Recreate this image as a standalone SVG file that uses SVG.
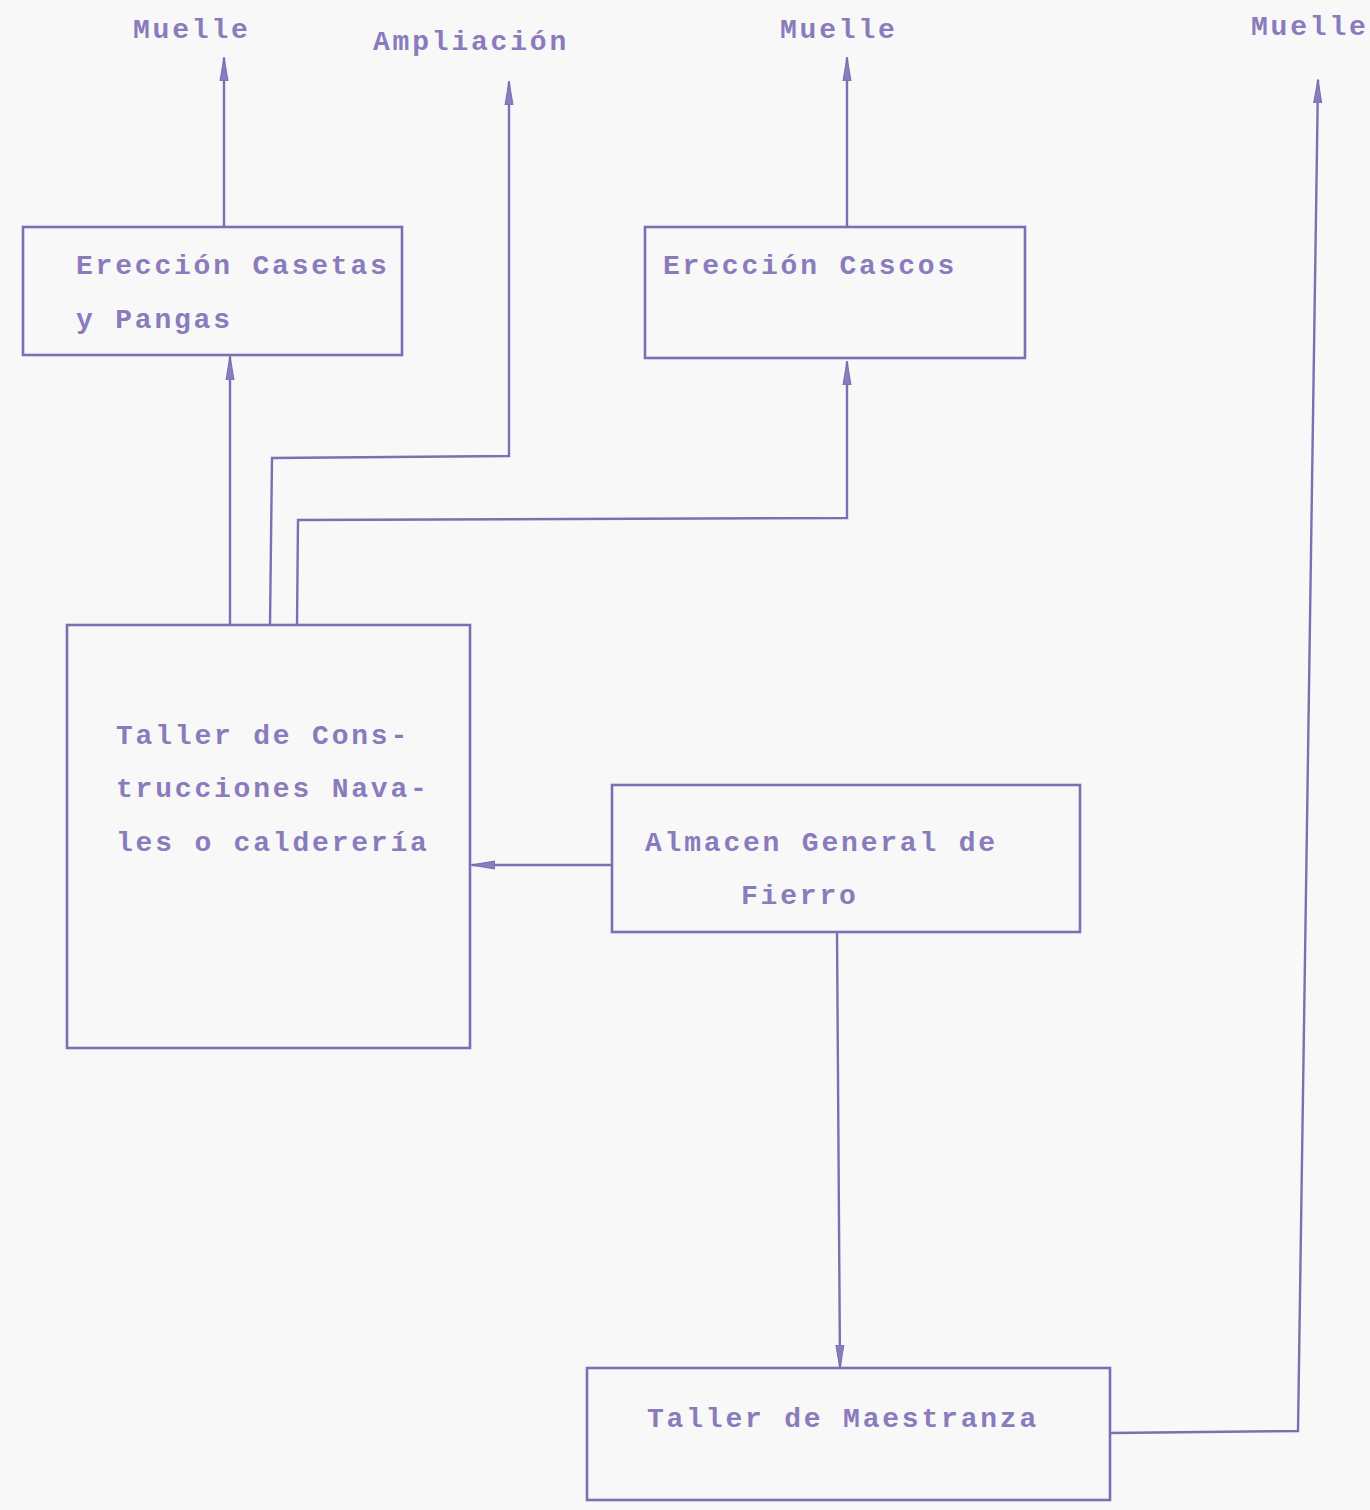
<svg xmlns="http://www.w3.org/2000/svg" width="1370" height="1510" viewBox="0 0 1370 1510">
<defs>
<marker id="ah" viewBox="0 0 24 10" refX="23" refY="5" markerWidth="24" markerHeight="10" markerUnits="userSpaceOnUse" orient="auto">
<path d="M0,1 L24,5 L0,9 Z" fill="#8a7cbd" stroke="#7a6aae" stroke-width="1"/>
</marker>
</defs>
<style>
.box{fill:none;stroke:#7e6eb2;stroke-width:2.6}
.ln{fill:none;stroke:#7e6eb2;stroke-width:2.4;marker-end:url(#ah)}
.t{font-family:"Liberation Mono",monospace;font-weight:bold;font-size:28px;letter-spacing:2.8px;fill:#8a7bbd}
</style>
<rect width="1370" height="1510" fill="#f8f8f9"/>
<g id="labels">
<text class="t" x="133" y="38">Muelle</text>
<text class="t" x="373" y="50">Ampliación</text>
<text class="t" x="780" y="38">Muelle</text>
<text class="t" x="1251" y="35">Muelle</text>
</g>
<g id="connectors">
<path class="ln" d="M224,227 L224,58"/>
<path class="ln" d="M270,625 L272,458 L509,456 L509,82"/>
<path class="ln" d="M230,625 L230,357"/>
<path class="ln" d="M297,625 L298,520 L847,518 L847,362"/>
<path class="ln" d="M847,227 L847,58"/>
<path class="ln" d="M612,865 L472,865"/>
<path class="ln" d="M837,932 L840,1368"/>
<path class="ln" d="M1110,1433 L1298,1431 L1318,80"/>
</g>
<g id="n-casetas">
<rect class="box" x="23" y="227" width="379" height="128"/>
<text class="t" x="76" y="274">Erección Casetas</text>
<text class="t" x="76" y="328">y Pangas</text>
</g>
<g id="n-cascos">
<rect class="box" x="645" y="227" width="380" height="131"/>
<text class="t" x="663" y="274">Erección Cascos</text>
</g>
<g id="n-taller">
<rect class="box" x="67" y="625" width="403" height="423"/>
<text class="t" x="116" y="744">Taller de Cons-</text>
<text class="t" x="116" y="797">trucciones Nava-</text>
<text class="t" x="116" y="851">les o calderería</text>
</g>
<g id="n-almacen">
<rect class="box" x="612" y="785" width="468" height="147"/>
<text class="t" x="645" y="851">Almacen General de</text>
<text class="t" x="741" y="904">Fierro</text>
</g>
<g id="n-maestranza">
<rect class="box" x="587" y="1368" width="523" height="132"/>
<text class="t" x="647" y="1427">Taller de Maestranza</text>
</g>
</svg>
